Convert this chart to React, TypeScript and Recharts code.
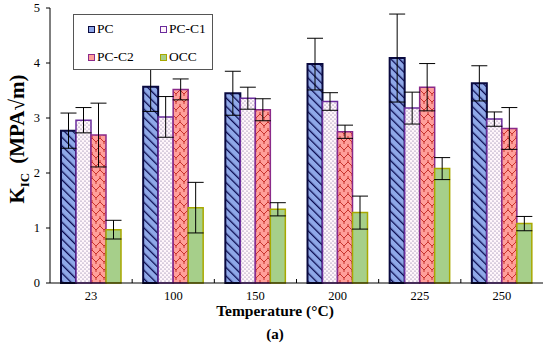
import React from 'react';
import { BarChart, Bar, XAxis, YAxis, ErrorBar } from 'recharts';

const temps = ['23', '100', '150', '200', '225', '250'];
const pc = [2.77, 3.57, 3.45, 3.98, 4.09, 3.63];
const pcErr = [0.32, 0.45, 0.4, 0.47, 0.8, 0.32];
const pcC1 = [2.96, 3.02, 3.36, 3.3, 3.18, 2.98];
const pcC1Err = [0.23, 0.37, 0.2, 0.16, 0.29, 0.13];
const pcC2 = [2.69, 3.52, 3.15, 2.75, 3.56, 2.81];
const pcC2Err = [0.58, 0.19, 0.2, 0.12, 0.43, 0.38];
const occ = [0.97, 1.37, 1.34, 1.28, 2.08, 1.08];
const occErr = [0.17, 0.46, 0.12, 0.3, 0.2, 0.13];
const yTicks = [0, 1, 2, 3, 4, 5];

const data = temps.map((t, i) => ({
  temp: t,
  pc: pc[i],
  pcErr: pcErr[i],
  pcC1: pcC1[i],
  pcC1Err: pcC1Err[i],
  pcC2: pcC2[i],
  pcC2Err: pcC2Err[i],
  occ: occ[i],
  occErr: occErr[i],
}));

const FONT = "'Liberation Serif', 'Times New Roman', 'DejaVu Serif', serif";

const series = [
  { key: 'pc', err: 'pcErr', name: 'PC', fill: 'url(#pcPat)', stroke: '#0a0a40', sw: 2, swatch: '#8fa8e8' },
  { key: 'pcC1', err: 'pcC1Err', name: 'PC-C1', fill: 'url(#c1Pat)', stroke: '#6a2c9c', sw: 1.5, swatch: '#fff4fa' },
  { key: 'pcC2', err: 'pcC2Err', name: 'PC-C2', fill: 'url(#c2Pat)', stroke: '#8a2a8a', sw: 1.5, swatch: '#ff9f9a' },
  { key: 'occ', err: 'occErr', name: 'OCC', fill: '#a6cf8a', stroke: '#a8a800', sw: 1.5, swatch: '#a6cf8a' },
];

const CatTick = (props: any) => {
  const { x, y, payload, index } = props;
  const half = payload && payload.offset ? payload.offset : 41;
  return (
    <g>
      {index > 0 && <line x1={x - half} x2={x - half} y1={y - 4} y2={y} stroke="#000" />}
      <text x={x} y={y + 17} textAnchor="middle" fontFamily={FONT} fontSize={12.5} fill="#000">
        {payload.value}
      </text>
    </g>
  );
};

// rotated axis title with subscript
const YLabel = () => {
  const cx = 24;
  const cy = 139;
  return (
    <text
      x={cx}
      y={cy}
      transform={`rotate(-90 ${cx} ${cy})`}
      textAnchor="middle"
      fontFamily={FONT}
      fontWeight="bold"
      fontSize={21}
      fill="#000"
    >
      K
      <tspan fontSize={13} dy={5}>IC</tspan>
      <tspan dy={-5} dx={9}>(MPA{'\u221A'}m)</tspan>
    </text>
  );
};

export default function App() {
  return (
    <div style={{ position: 'absolute', left: 0, top: 0, width: 550, height: 345, background: '#fff' }}>
      <BarChart
        width={550}
        height={345}
        data={data}
        margin={{ top: 8, right: 7, left: 0, bottom: 0 }}
        barGap={0}
        barSize={15}
      >
        <defs>
          <pattern id="pcPat" width="6" height="6" patternUnits="userSpaceOnUse" patternTransform="rotate(-45)">
            <rect width="6" height="6" fill="#8fa8e8" />
            <line x1="0" y1="0" x2="0" y2="6" stroke="#0a0a50" strokeWidth="2.6" />
          </pattern>
          <pattern id="c1Pat" width="4" height="4" patternUnits="userSpaceOnUse">
            <rect width="4" height="4" fill="#fff6fb" />
            <circle cx="1" cy="1" r="0.6" fill="#6a5a8a" />
            <circle cx="3" cy="3" r="0.6" fill="#6a5a8a" />
          </pattern>
          <pattern id="c2Pat" width="8" height="8" patternUnits="userSpaceOnUse">
            <rect width="8" height="8" fill="#ff9f9a" />
            <path d="M0 6 L4 2 L8 6" stroke="#c8322c" strokeWidth="1" fill="none" />
            <path d="M4 2 L4 -2 M0 6 L0 10 M8 6 L8 10" stroke="#c8322c" strokeWidth="1" fill="none" />
          </pattern>
        </defs>
        <XAxis
          dataKey="temp"
          height={62}
          tickLine={false}
          tickSize={0}
          tickMargin={0}
          tick={<CatTick />}
          axisLine={{ stroke: '#000' }}
        />
        <XAxis xAxisId="top" dataKey="temp" orientation="top" height={0} tick={false} tickLine={false} axisLine={{ stroke: '#888' }} />
        <YAxis
          domain={[0, 5]}
          ticks={yTicks}
          width={50}
          tickSize={4}
          tickMargin={6}
          tickLine={{ stroke: '#000' }}
          axisLine={{ stroke: '#000' }}
          tick={{ fontFamily: FONT, fontSize: 12.5, fill: '#000' }}
          label={<YLabel />}
        />
        <YAxis yAxisId="right" orientation="right" domain={[0, 5]} width={0} tick={false} tickLine={false} axisLine={{ stroke: '#888' }} />
        {series.map((s) => (
          <Bar
            key={s.key}
            dataKey={s.key}
            name={s.name}
            fill={s.fill}
            stroke={s.stroke}
            strokeWidth={s.sw}
            isAnimationActive={false}
          >
            <ErrorBar dataKey={s.err} width={8} stroke="#000" strokeWidth={1} direction="y" />
          </Bar>
        ))}
      </BarChart>
      <div
        style={{
          position: 'absolute',
          left: 73,
          top: 14,
          width: 140,
          height: 56,
          border: '1px solid #555',
          background: '#fff',
          boxSizing: 'border-box',
          fontFamily: FONT,
          fontSize: 13.5,
        }}
      >
        {series.map((s, i) => (
          <div
            key={s.key}
            style={{
              position: 'absolute',
              left: i % 2 === 0 ? 14 : 86,
              top: i < 2 ? 6 : 34,
              display: 'flex',
              alignItems: 'center',
              lineHeight: '16px',
            }}
          >
            <span
              style={{
                display: 'inline-block',
                width: 5,
                height: 5,
                background: s.swatch,
                border: `1.5px solid ${s.stroke}`,
                marginRight: 2,
              }}
            />
            {s.name}
          </div>
        ))}
      </div>
      <div
        style={{
          position: 'absolute',
          left: 0,
          width: 550,
          top: 302,
          textAlign: 'center',
          fontFamily: FONT,
          fontWeight: 'bold',
          fontSize: 15.5,
        }}
      >
        Temperature (°C)
      </div>
      <div
        style={{
          position: 'absolute',
          left: 0,
          width: 550,
          top: 326,
          textAlign: 'center',
          fontFamily: FONT,
          fontWeight: 'bold',
          fontSize: 15,
        }}
      >
        (a)
      </div>
    </div>
  );
}
